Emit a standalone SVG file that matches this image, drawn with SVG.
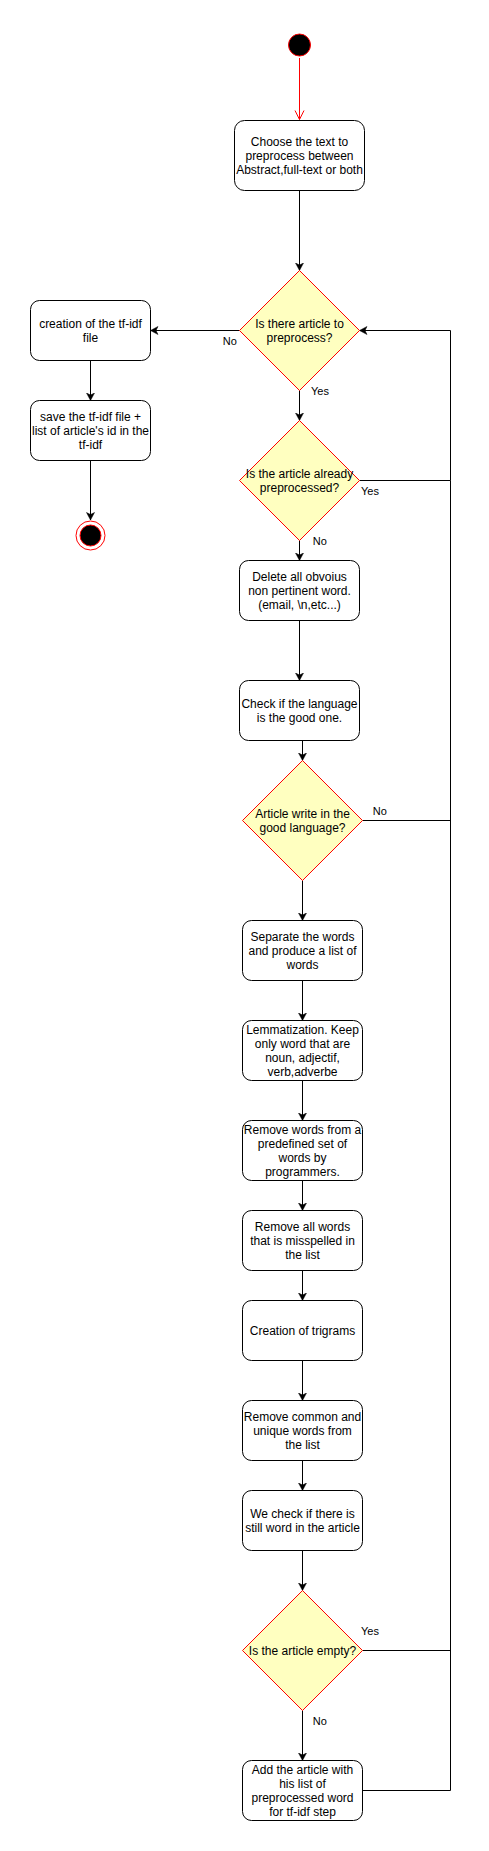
<svg xmlns="http://www.w3.org/2000/svg" width="489" height="1851" viewBox="0 0 489 1851">
<style>
.box{fill:#ffffff;stroke:#000000;stroke-width:1}
.dia{fill:#ffffc0;stroke:#ff0000;stroke-width:1}
.t{font-family:"Liberation Sans",Arial,sans-serif;font-size:12px;fill:#000000;text-anchor:middle}
.lbl{font-family:"Liberation Sans",Arial,sans-serif;font-size:11px;fill:#000000}
.e{fill:none;stroke:#000000;stroke-width:1}
</style>
<defs>
<marker id="arr" markerUnits="userSpaceOnUse" viewBox="-8 -5 10 10" refX="0" refY="0" markerWidth="10" markerHeight="10" orient="auto">
<path d="M0,0 L-7.5,-4 L-5.5,0 L-7.5,4 Z" fill="#000000" stroke="#000000" stroke-width="0.5"/>
</marker>
<marker id="openred" markerUnits="userSpaceOnUse" viewBox="-10 -6 12 12" refX="0" refY="0" markerWidth="12" markerHeight="12" orient="auto">
<path d="M-9,-4.5 L0,0 L-9,4.5" fill="none" stroke="#ff0000" stroke-width="1"/>
</marker>
</defs>

<g id="connectors">
<path class="e" d="M299.5,58 V119.5" stroke="#ff0000" style="stroke:#ff0000" marker-end="url(#openred)"/>
<path class="e" d="M299.5,190.5 V270.5" marker-end="url(#arr)"/>
<path class="e" d="M239.5,330.5 H150.5" marker-end="url(#arr)"/>
<path class="e" d="M90.5,360.5 V400.5" marker-end="url(#arr)"/>
<path class="e" d="M90.5,460.5 V520" marker-end="url(#arr)"/>
<path class="e" d="M299.5,390.5 V420.5" marker-end="url(#arr)"/>
<path class="e" d="M359.5,480.5 H450.5 V330.5 H359.5" marker-end="url(#arr)"/>
<path class="e" d="M299.5,540.5 V560.5" marker-end="url(#arr)"/>
<path class="e" d="M299.5,620.5 V680.5" marker-end="url(#arr)"/>
<path class="e" d="M302.5,740.5 V760.5" marker-end="url(#arr)"/>
<path class="e" d="M362.5,820.5 H450.5"/>
<path class="e" d="M302.5,880.5 V920.5" marker-end="url(#arr)"/>
<path class="e" d="M302.5,980.5 V1020.5" marker-end="url(#arr)"/>
<path class="e" d="M302.5,1080.5 V1120.5" marker-end="url(#arr)"/>
<path class="e" d="M302.5,1180.5 V1210.5" marker-end="url(#arr)"/>
<path class="e" d="M302.5,1270.5 V1300.5" marker-end="url(#arr)"/>
<path class="e" d="M302.5,1360.5 V1400.5" marker-end="url(#arr)"/>
<path class="e" d="M302.5,1460.5 V1490.5" marker-end="url(#arr)"/>
<path class="e" d="M302.5,1550.5 V1590.5" marker-end="url(#arr)"/>
<path class="e" d="M362.5,1650.5 H450.5"/>
<path class="e" d="M302.5,1710.5 V1760.5" marker-end="url(#arr)"/>
<path class="e" d="M362.5,1790.5 H450.5 V480.5"/>
<text class="lbl" x="222.7" y="344.5">No</text>
<text class="lbl" x="311" y="394.5">Yes</text>
<text class="lbl" x="361" y="494.5">Yes</text>
<text class="lbl" x="312.7" y="544.5">No</text>
<text class="lbl" x="372.7" y="814.5">No</text>
<text class="lbl" x="361" y="1634.5">Yes</text>
<text class="lbl" x="312.7" y="1724.5">No</text>
</g>

<g id="start"><circle cx="299.5" cy="45" r="11" fill="#000000" stroke="#ff0000" stroke-width="1"/></g>

<g id="choose"><rect class="box" x="234.5" y="120.5" width="130" height="70" rx="10"/>
<text class="t" x="299.5" y="146">Choose the text to</text>
<text class="t" x="299.5" y="160">preprocess between</text>
<text class="t" x="299.5" y="174">Abstract,full-text or both</text></g>

<g id="d1"><polygon class="dia" points="299.5,270.5 359.5,330.5 299.5,390.5 239.5,330.5"/>
<text class="t" x="299.5" y="327.5">Is there article to</text>
<text class="t" x="299.5" y="341.5">preprocess?</text></g>

<g id="creation"><rect class="box" x="30.5" y="300.5" width="120" height="60" rx="9"/>
<text class="t" x="90.5" y="327.5">creation of the tf-idf</text>
<text class="t" x="90.5" y="341.5">file</text></g>

<g id="save"><rect class="box" x="30.5" y="400.5" width="120" height="60" rx="9"/>
<text class="t" x="90.5" y="421">save the tf-idf file +</text>
<text class="t" x="90.5" y="435">list of article's id in the</text>
<text class="t" x="90.5" y="449">tf-idf</text></g>

<g id="end"><circle cx="90.5" cy="535.5" r="14.5" fill="#ffffff" stroke="#ff0000" stroke-width="1"/>
<circle cx="90.5" cy="535.5" r="10.5" fill="#000000" stroke="#ff0000" stroke-width="1"/></g>

<g id="d2"><polygon class="dia" points="299.5,420.5 359.5,480.5 299.5,540.5 239.5,480.5"/>
<text class="t" x="299.5" y="477.5">Is the article already</text>
<text class="t" x="299.5" y="491.5">preprocessed?</text></g>

<g id="delete"><rect class="box" x="239.5" y="560.5" width="120" height="60" rx="9"/>
<text class="t" x="299.5" y="581">Delete all obvoius</text>
<text class="t" x="299.5" y="595">non pertinent word.</text>
<text class="t" x="299.5" y="609">(email, \n,etc...)</text></g>

<g id="check"><rect class="box" x="239.5" y="680.5" width="120" height="60" rx="9"/>
<text class="t" x="299.5" y="708">Check if the language</text>
<text class="t" x="299.5" y="722">is the good one.</text></g>

<g id="d3"><polygon class="dia" points="302.5,760.5 362.5,820.5 302.5,880.5 242.5,820.5"/>
<text class="t" x="302.5" y="817.5">Article write in the</text>
<text class="t" x="302.5" y="831.5">good language?</text></g>

<g id="separate"><rect class="box" x="242.5" y="920.5" width="120" height="60" rx="9"/>
<text class="t" x="302.5" y="941">Separate the words</text>
<text class="t" x="302.5" y="955">and produce a list of</text>
<text class="t" x="302.5" y="969">words</text></g>

<g id="lemm"><rect class="box" x="242.5" y="1020.5" width="120" height="60" rx="9"/>
<text class="t" x="302.5" y="1034">Lemmatization. Keep</text>
<text class="t" x="302.5" y="1048">only word that are</text>
<text class="t" x="302.5" y="1062">noun, adjectif,</text>
<text class="t" x="302.5" y="1076">verb,adverbe</text></g>

<g id="removeset"><rect class="box" x="242.5" y="1120.5" width="120" height="60" rx="9"/>
<text class="t" x="302.5" y="1134">Remove words from a</text>
<text class="t" x="302.5" y="1148">predefined set of</text>
<text class="t" x="302.5" y="1162">words by</text>
<text class="t" x="302.5" y="1176">programmers.</text></g>

<g id="removemiss"><rect class="box" x="242.5" y="1210.5" width="120" height="60" rx="9"/>
<text class="t" x="302.5" y="1231">Remove all words</text>
<text class="t" x="302.5" y="1245">that is misspelled in</text>
<text class="t" x="302.5" y="1259">the list</text></g>

<g id="trigrams"><rect class="box" x="242.5" y="1300.5" width="120" height="60" rx="9"/>
<text class="t" x="302.5" y="1335">Creation of trigrams</text></g>

<g id="removecommon"><rect class="box" x="242.5" y="1400.5" width="120" height="60" rx="9"/>
<text class="t" x="302.5" y="1421">Remove common and</text>
<text class="t" x="302.5" y="1435">unique words from</text>
<text class="t" x="302.5" y="1449">the list</text></g>

<g id="wecheck"><rect class="box" x="242.5" y="1490.5" width="120" height="60" rx="9"/>
<text class="t" x="302.5" y="1518">We check if there is</text>
<text class="t" x="302.5" y="1532">still word in the article</text></g>

<g id="d4"><polygon class="dia" points="302.5,1590.5 362.5,1650.5 302.5,1710.5 242.5,1650.5"/>
<text class="t" x="302.5" y="1655">Is the article empty?</text></g>

<g id="add"><rect class="box" x="242.5" y="1760.5" width="120" height="60" rx="9"/>
<text class="t" x="302.5" y="1774">Add the article with</text>
<text class="t" x="302.5" y="1788">his list of</text>
<text class="t" x="302.5" y="1802">preprocessed word</text>
<text class="t" x="302.5" y="1816">for tf-idf step</text></g>
</svg>
